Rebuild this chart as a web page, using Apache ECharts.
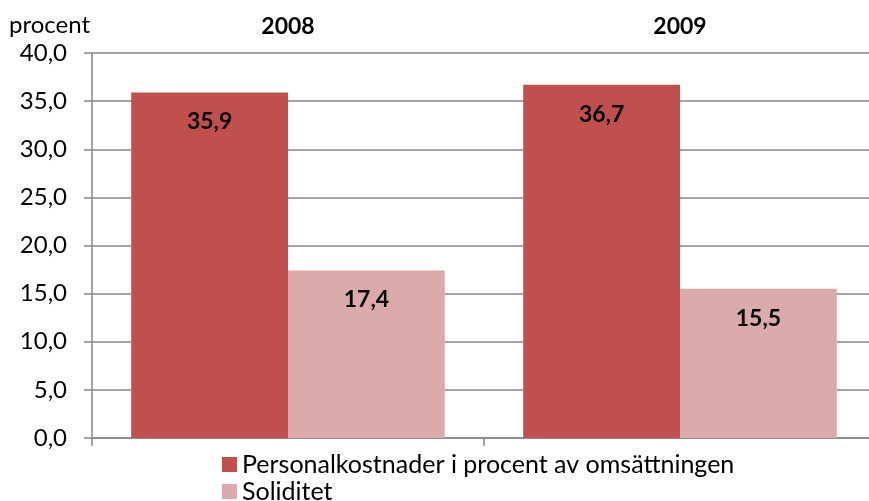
<!DOCTYPE html>
<html><head><meta charset="utf-8">
<script src="https://cdn.jsdelivr.net/npm/echarts@6/dist/echarts.min.js"></script>
<style>html,body{margin:0;padding:0;background:#fff;overflow:hidden}#c{width:880px;height:501px}</style>
</head><body><div id="c"></div>
<script>
const categories = ['2008', '2009'];
const seriesNames = ['Personalkostnader i procent av omsättningen', 'Soliditet'];
const personal = [35.9, 36.7];
const soliditet = [17.4, 15.5];
const yUnit = 'procent';

const FONT = 'Lato';
const fmt = v => v.toFixed(1).replace('.', ',');
const chart = echarts.init(document.getElementById('c'), null, {renderer: 'canvas'});
const labelCfg = {
  show: true, position: 'insideTop', distance: 18,
  formatter: p => fmt(p.value), fontFamily: FONT, fontWeight: 'bold', fontSize: 23, color: '#000'
};
chart.setOption({
  animation: false,
  textStyle: {fontFamily: FONT},
  grid: {left: 92, top: 53, width: 784, height: 385, containLabel: false},
  graphic: [{type: 'text', left: 9, top: 13, style: {text: yUnit, font: '24px ' + FONT, fill: '#000'}}],
  legend: {
    orient: 'vertical', left: 222, top: 451, height: 80, padding: 0,
    itemWidth: 15, itemHeight: 15, itemGap: 0,
    icon: 'rect', textStyle: {fontFamily: FONT, fontSize: 25, color: '#000', lineHeight: 27},
    data: seriesNames
  },
  xAxis: [
    {type: 'category', data: categories, position: 'bottom',
     axisLine: {lineStyle: {color: '#868686', width: 1.5}},
     axisTick: {show: true, length: 8, lineStyle: {color: '#868686', width: 1.5}},
     axisLabel: {show: false}},
    {type: 'category', data: categories, position: 'top',
     axisLine: {show: false}, axisTick: {show: false},
     axisLabel: {show: true, margin: 15, fontFamily: FONT, fontWeight: 'bold', fontSize: 23, color: '#000'}}
  ],
  yAxis: {
    type: 'value', min: 0, max: 40, interval: 5,
    axisLine: {show: true, lineStyle: {color: '#868686', width: 1.5}},
    axisTick: {show: true, length: 8, lineStyle: {color: '#868686', width: 1.5}},
    splitLine: {lineStyle: {color: '#868686', width: 1.5}},
    axisLabel: {formatter: v => fmt(v), fontFamily: FONT, fontSize: 24, color: '#000', margin: 25}
  },
  series: [
    {name: seriesNames[0], type: 'bar', data: personal, barWidth: '40%', barGap: '0%',
     itemStyle: {color: '#C0504D'}, label: labelCfg},
    {name: seriesNames[1], type: 'bar', data: soliditet, barWidth: '40%', barGap: '0%',
     itemStyle: {color: '#DBAAAA'}, label: labelCfg}
  ]
});
</script></body></html>
